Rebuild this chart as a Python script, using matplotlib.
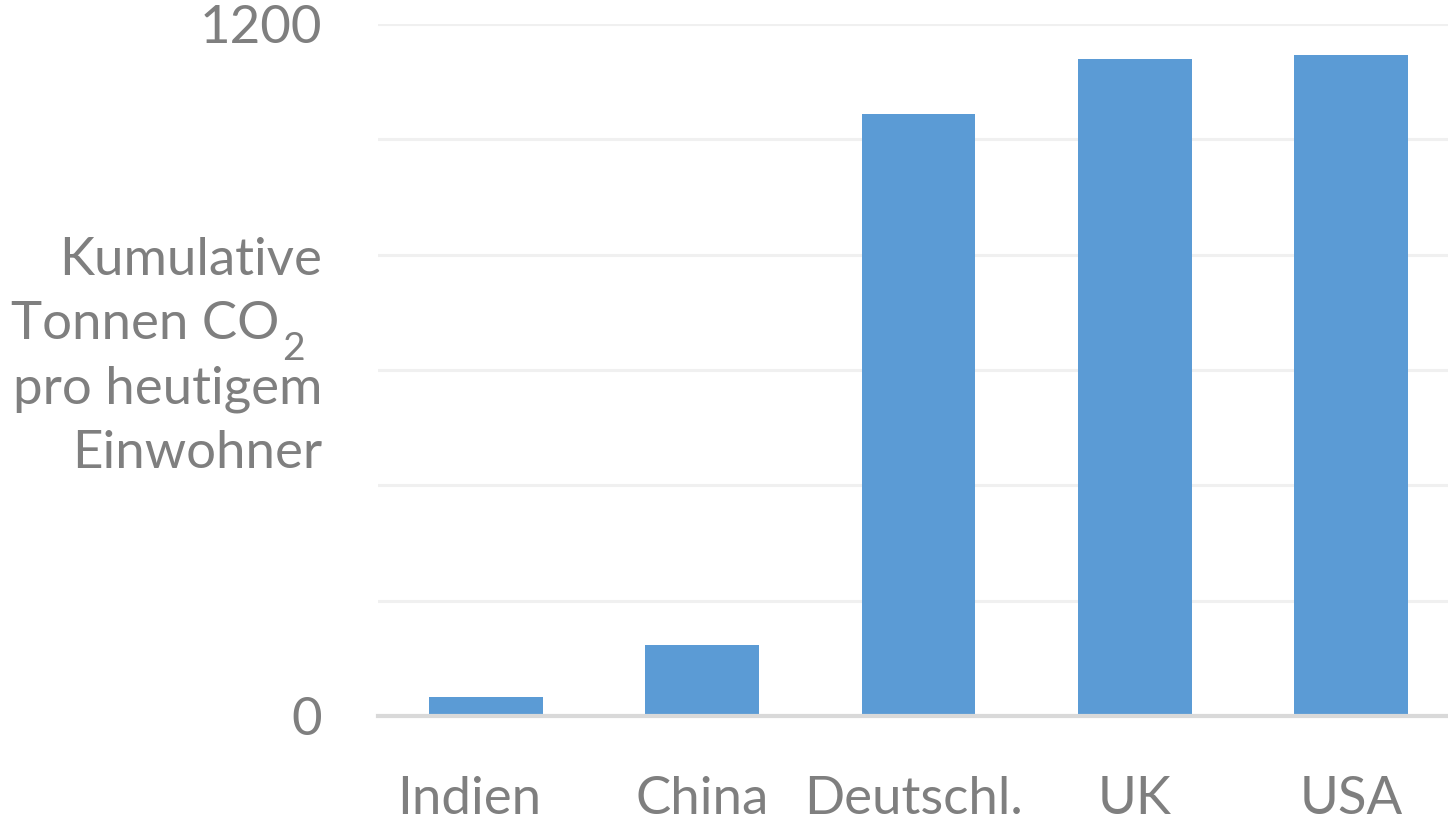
import matplotlib
matplotlib.use("Agg")
import matplotlib.pyplot as plt
from matplotlib.ticker import MultipleLocator, FuncFormatter
from matplotlib.transforms import ScaledTranslation

plt.rcParams['font.family'] = ['Lato', 'DejaVu Sans']

categories = ["Indien", "China", "Deutschl.", "UK", "USA"]
values = [33, 123, 1044, 1139, 1146]
y_tick_labels = {0: "0", 1200: "1200"}
ylabel_lines = ["Kumulative", "Tonnen CO", "pro heutigem", "Einwohner"]
subscript = "2"

GREY = "#7f7f7f"
BAR = "#5b9bd5"
W, H = 1448, 817

fig = plt.figure(figsize=(W/100, H/100), dpi=100)
ax = fig.add_axes([378/W, 1-716/H, 1081/W, (716-24)/H])

x = range(len(categories))
ax.bar(x, values, width=0.527, color=BAR, zorder=3)
ax.set_xlim(-0.5, len(categories)-0.5)
ax.set_ylim(0, 1200)
ax.yaxis.set_major_locator(MultipleLocator(200))
ax.yaxis.set_major_formatter(FuncFormatter(lambda v, p: y_tick_labels.get(int(round(v)), "")))
ax.grid(axis='y', color="#f0f0f0", linewidth=2.2, zorder=0)
ax.set_axisbelow(True)
ax.set_xticks(list(x))
ax.set_xticklabels(categories)
for s in ["top", "right", "left"]:
    ax.spines[s].set_visible(False)
ax.spines["bottom"].set_color("#d9d9d9")
ax.spines["bottom"].set_linewidth(3)
ax.spines["bottom"].set_zorder(4)
ax.tick_params(axis='both', length=0, labelcolor=GREY, labelsize=38)
ax.tick_params(axis='y', pad=40)
ax.tick_params(axis='x', pad=43)
# small horizontal offsets of category labels as in the reference
offsets_px = [-17, 0, -5, 0, 0]
for lbl, dx in zip(ax.get_xticklabels(), offsets_px):
    lbl.set_transform(lbl.get_transform() + ScaledTranslation(dx/100, 0, fig.dpi_scale_trans))

# y label, line by line
base0, step = 275, 64.3
for i, line in enumerate(ylabel_lines):
    xr = 322 if i != 1 else 279
    fig.text(xr/W, 1-(base0+i*step)/H, line, ha='right', va='baseline',
             fontsize=38, color=GREY)
fig.text(282/W, 1-(base0+step+21)/H, subscript, ha='left', va='baseline',
         fontsize=28, color=GREY)

fig.savefig("out.png", dpi=100)
